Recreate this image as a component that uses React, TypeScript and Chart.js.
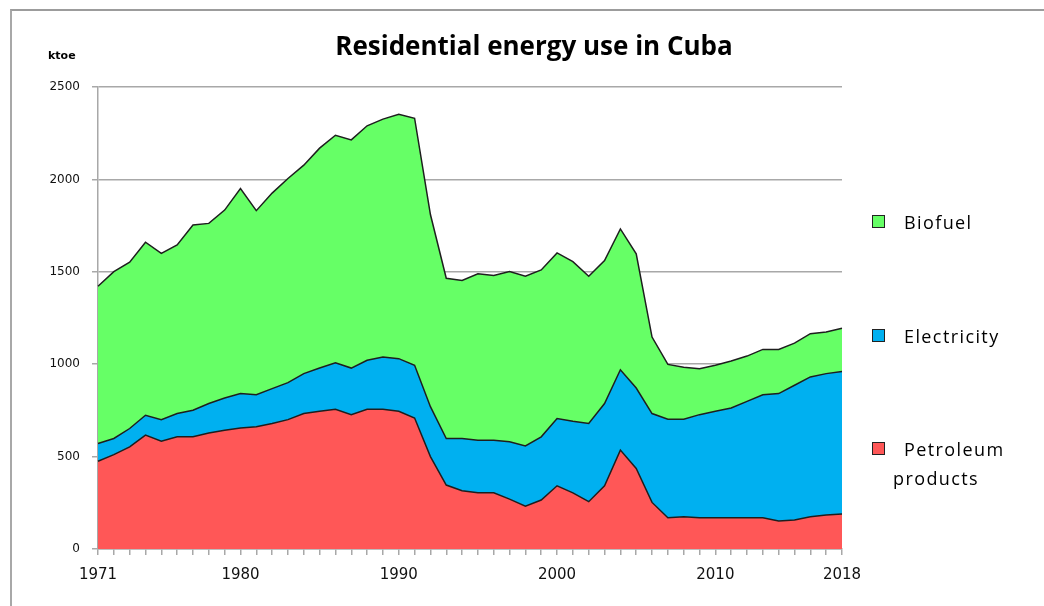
import React, { useEffect, useRef } from "react";
import { Chart, registerables } from "chart.js";

Chart.register(...registerables);

const years: string[] = [];
for (let y = 1971; y <= 2018; y++) years.push(String(y));

const shownYears = ["1971", "1980", "1990", "2000", "2010", "2018"];

const petroleum = [
  475, 511, 553, 616, 583, 607, 607, 628, 643, 655, 661, 679, 700, 733, 745, 756,
  727, 756, 756, 745, 709, 500, 346, 315, 304, 304, 270, 232, 265, 342, 304, 256,
  342, 535, 436, 252, 169, 175, 169, 169, 169, 169, 169, 151, 157, 175, 184, 189,
];

const electricity = [
  96, 87, 99, 108, 117, 126, 144, 159, 174, 186, 174, 189, 200, 216, 234, 252,
  252, 265, 283, 285, 285, 270, 252, 283, 285, 285, 310, 326, 342, 364, 387, 423,
  445, 435, 435, 481, 533, 527, 558, 576, 594, 630, 666, 690, 729, 756, 765, 772,
];

const biofuel = [
  851, 903, 900, 936, 900, 912, 1002, 975, 1017, 1110, 996, 1058, 1105, 1128, 1190, 1231,
  1235, 1269, 1287, 1323, 1337, 1040, 867, 855, 900, 891, 921, 918, 903, 896, 864, 797,
  774, 762, 726, 414, 297, 281, 249, 249, 254, 245, 245, 239, 228, 234, 225, 234,
];

const yTicks = [0, 500, 1000, 1500, 2000, 2500];

const GREEN = "#66ff66";
const BLUE = "#00b0f0";
const RED = "#ff5757";
const EDGE = "#1e1e1e";
const GRID = "#a8a8a8";

const legendItems = [
  { label: ["Biofuel"], color: GREEN, top: 222 },
  { label: ["Electricity"], color: BLUE, top: 336 },
  { label: ["Petroleum", "products"], color: RED, top: 449 },
];

export default function App() {
  const ref = useRef<HTMLCanvasElement | null>(null);

  useEffect(() => {
    document.body.style.margin = "0";
    document.body.style.overflow = "hidden";
    const canvas = ref.current;
    if (!canvas) return;
    const chart = new Chart(canvas, {
      type: "line",
      data: {
        labels: years,
        datasets: [
          {
            label: "Petroleum products",
            data: petroleum,
            backgroundColor: RED,
            borderColor: EDGE,
            borderWidth: 1.5,
            pointRadius: 0,
            fill: "origin",
            tension: 0,
          },
          {
            label: "Electricity",
            data: electricity,
            backgroundColor: BLUE,
            borderColor: EDGE,
            borderWidth: 1.5,
            pointRadius: 0,
            fill: "-1",
            tension: 0,
          },
          {
            label: "Biofuel",
            data: biofuel,
            backgroundColor: GREEN,
            borderColor: EDGE,
            borderWidth: 1.5,
            pointRadius: 0,
            fill: "-1",
            tension: 0,
          },
        ],
      },
      options: {
        responsive: false,
        animation: false,
        layout: { padding: { top: 87, right: 202, left: 0, bottom: 0 } },
        plugins: {
          legend: { display: false },
          title: { display: false },
          tooltip: { enabled: false },
        },
        scales: {
          x: {
            type: "category",
            offset: false,
            afterFit: (scale: any) => {
              scale.height = 57;
            },
            grid: {
              drawOnChartArea: false,
              drawTicks: true,
              tickLength: 6,
              color: GRID,
              lineWidth: 1.5,
            },
            border: { display: true, color: GRID, width: 1.5 },
            ticks: {
              autoSkip: false,
              maxRotation: 0,
              minRotation: 0,
              padding: 11,
              color: "#111",
              font: { family: "DejaVu Sans", size: 15 },
              callback: function (this: any, value: any) {
                const lab = this.getLabelForValue(value);
                return shownYears.includes(lab) ? lab : "";
              },
            },
          },
          y: {
            stacked: true,
            min: 0,
            max: 2500,
            afterFit: (scale: any) => {
              scale.width = 98;
            },
            afterBuildTicks: (scale: any) => {
              scale.ticks = yTicks.map((v) => ({ value: v }));
            },
            grid: {
              color: GRID,
              lineWidth: 1.5,
              tickLength: 6,
            },
            border: { display: true, color: GRID, width: 1.5 },
            ticks: {
              padding: 12,
              color: "#111",
              font: { family: "DejaVu Sans", size: 12 },
              callback: (value: any) => String(value),
            },
          },
        },
      },
    });
    return () => chart.destroy();
  }, []);

  return (
    <div style={{ position: "relative", width: 1044, height: 606, overflow: "hidden", background: "#fff" }}>
      <div
        style={{
          position: "absolute",
          left: 10,
          top: 9,
          width: 1034,
          height: 597,
          borderTop: "2px solid #9c9c9c",
          borderLeft: "2px solid #a8a8a8",
          boxSizing: "border-box",
        }}
      />
      <canvas ref={ref} width={1044} height={606} style={{ position: "absolute", left: 0, top: 0 }} />
      <div
        style={{
          position: "absolute",
          left: 0,
          width: 1068,
          top: 45,
          transform: "translateY(-50%)",
          textAlign: "center",
          fontFamily: "'Open Sans', sans-serif",
          fontWeight: 700,
          fontSize: 26,
          color: "#000",
          whiteSpace: "nowrap",
        }}
      >
        Residential energy use in Cuba
      </div>
      <div
        style={{
          position: "absolute",
          left: 48,
          top: 55,
          transform: "translateY(-50%)",
          fontFamily: "'DejaVu Sans', sans-serif",
          fontSize: 11,
          fontWeight: 700,
          color: "#000",
        }}
      >
        ktoe
      </div>
      {legendItems.map((it) => (
        <div key={it.label[0]}>
          <div
            style={{
              position: "absolute",
              left: 872,
              top: it.top - 7,
              width: 13,
              height: 13,
              boxSizing: "border-box",
              border: "1.5px solid #222",
              background: it.color,
            }}
          />
          {it.label.map((line, i) => (
            <div
              key={line}
              style={{
                position: "absolute",
                left: i === 0 ? 904 : 893,
                top: it.top + i * 29,
                transform: "translateY(-50%)",
                fontFamily: "'Open Sans', sans-serif",
                fontSize: 18,
                letterSpacing: 1.4,
                color: "#000",
                whiteSpace: "nowrap",
              }}
            >
              {line}
            </div>
          ))}
        </div>
      ))}
    </div>
  );
}
